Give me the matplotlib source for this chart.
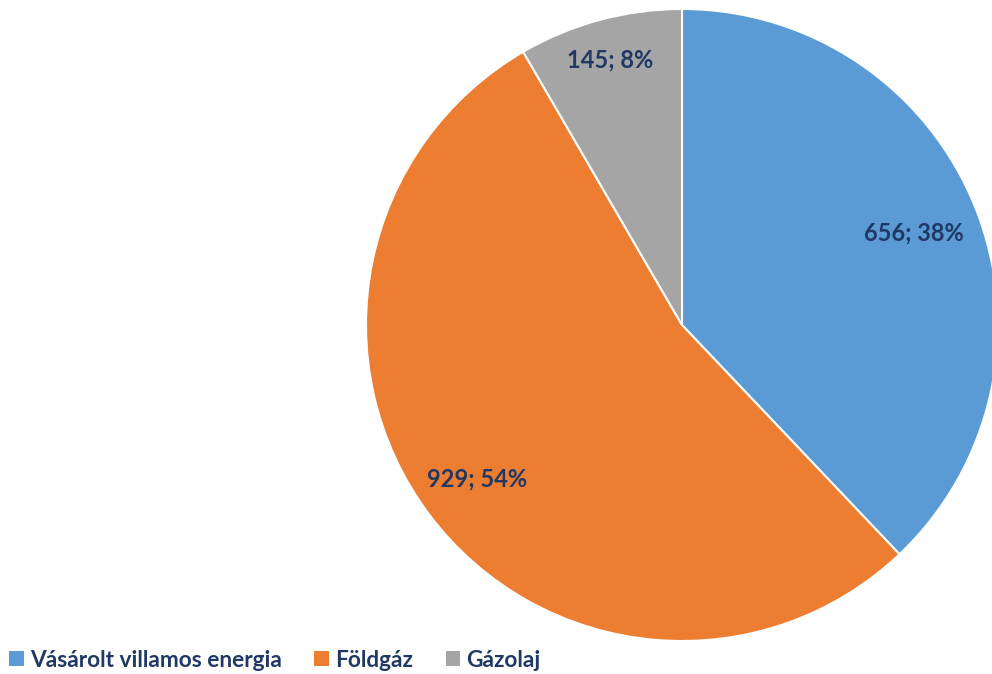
import numpy as np
import matplotlib.pyplot as plt
from matplotlib.patches import Patch

categories = ['Vásárolt villamos energia', 'Földgáz', 'Gázolaj']
values = [656, 929, 145]
percents = ['38%', '54%', '8%']
colors = ['#5B9BD5', '#ED7D31', '#A5A5A5']
text_color = '#203864'

plt.rcParams['font.family'] = ['Lato', 'DejaVu Sans']

fig = plt.figure(figsize=(9.92, 6.74), dpi=100)
ax = fig.add_axes([0, 0, 1, 1])

cx, cy, r = 682, 349, 316
wedges, _ = ax.pie(values, colors=colors, startangle=90, counterclock=False,
                   center=(cx, cy), radius=r, frame=True,
                   wedgeprops=dict(edgecolor='white', linewidth=1.5))
ax.set_xlim(0, 992)
ax.set_ylim(0, 674)
ax.axis('off')

dists = [0.79, 0.81, 0.87]
for w, v, p, d in zip(wedges, values, percents, dists):
    ang = np.deg2rad((w.theta1 + w.theta2) / 2)
    ax.text(cx + d * r * np.cos(ang), cy + d * r * np.sin(ang), f'{v}; {p}',
            ha='center', va='center', fontsize=17, fontweight='bold', color=text_color)

handles = [Patch(facecolor=c, edgecolor='none') for c in colors]
leg = fig.legend(handles, categories, loc='lower left', bbox_to_anchor=(0.006, 0.0),
                 ncol=3, frameon=False, fontsize=16.3, handlelength=0.65, handleheight=0.65,
                 handletextpad=0.25, columnspacing=1.45, borderaxespad=0.0,
                 borderpad=0.15)
for t in leg.get_texts():
    t.set_color(text_color)
    t.set_fontweight('bold')

fig.savefig('out.png', dpi=100)
